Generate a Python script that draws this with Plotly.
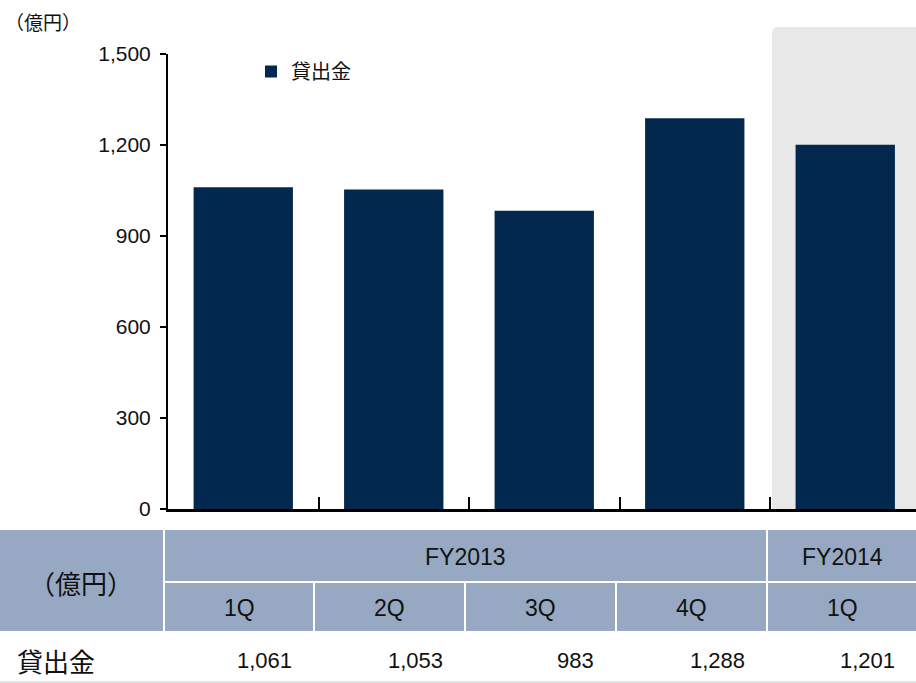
import plotly.graph_objects as go

# ---- data ----
categories = ["FY2013 1Q", "FY2013 2Q", "FY2013 3Q", "FY2013 4Q", "FY2014 1Q"]
quarters = ["1Q", "2Q", "3Q", "4Q", "1Q"]
years = ["FY2013", "FY2014"]
year_spans = [4, 1]
series_name = "貸出金"
values = [1061, 1053, 983, 1288, 1201]
y_ticks = [0, 300, 600, 900, 1200, 1500]
unit_label = "（億円）"

# ---- geometry helpers (pixel -> paper) ----
W, H = 916, 683
PL, PR, PT, PB = 168, 916, 54, 509
def px(x):
    return (x - PL) / (PR - PL)
def py(y):
    return (PB - y) / (PB - PT)

BAR = "#03284E"
HEAD = "#97A9C2"
FONT = "Liberation Sans, Arial, Noto Sans CJK JP, sans-serif"
JP = "Noto Sans CJK JP, sans-serif"

fig = go.Figure()
fig.add_trace(go.Bar(
    x=categories, y=values, name=series_name,
    marker=dict(color=BAR, line=dict(width=0)),
    width=0.66, showlegend=True,
))

shapes = []
annotations = []

# shaded FY2014 area with rounded top-left corner
x0, x1, y0, y1 = px(772), px(916), py(PB), py(27)
r = 6
rx, ry = r / (PR - PL), r / (PB - PT)
shapes.append(dict(
    type="path", xref="paper", yref="paper", layer="below",
    path=f"M {x0} {y0} L {x0} {y1 - ry} Q {x0} {y1} {x0 + rx} {y1} L {x1} {y1} L {x1} {y0} Z",
    fillcolor="#E8E8E8", line=dict(width=0),
))

def cell(xa, xb, ya, yb, color=HEAD):
    shapes.append(dict(type="rect", xref="paper", yref="paper",
                       x0=px(xa), x1=px(xb), y0=py(yb), y1=py(ya),
                       fillcolor=color, line=dict(width=0)))

def text(x, y, s, size, xanchor="center", font=FONT):
    annotations.append(dict(x=px(x), y=py(y), xref="paper", yref="paper",
                            text=s, showarrow=False, xanchor=xanchor,
                            yanchor="middle", font=dict(size=size, color="#111", family=font)))

col_edges = [165, 315, 466, 617, 768, 918]
cell(0, 163, 530, 631)
text(81, 582, unit_label, 26, font=JP)

# year row
ci = 0
for yname, span in zip(years, year_spans):
    xa = col_edges[ci]
    xb = min(col_edges[ci + span] - 2, 916)
    cell(xa, xb, 530, 581)
    text((xa + xb) / 2, 557, yname, 23)
    ci += span

# quarter row + value row
for i, q in enumerate(quarters):
    xa = col_edges[i]
    xb = min(col_edges[i + 1] - 2, 916)
    cell(xa, xb, 583, 631)
    text((xa + xb) / 2, 608, q, 23)
    text(xb - 19, 660, f"{values[i]:,}", 22, xanchor="right")

text(15, 660, series_name, 26, xanchor="left", font=JP)

# bottom border of table
shapes.append(dict(type="line", xref="paper", yref="paper",
                   x0=px(0), x1=px(916), y0=py(682), y1=py(682),
                   line=dict(color="#D9D9D9", width=1.5)))

# unit label top-left
text(3, 21, unit_label, 19, xanchor="left", font=JP)

fig.update_layout(
    width=W, height=H, autosize=False,
    margin=dict(l=PL, r=W - PR, t=PT, b=H - PB),
    paper_bgcolor="white", plot_bgcolor="rgba(0,0,0,0)",
    shapes=shapes, annotations=annotations,
    showlegend=True,
    legend=dict(x=px(251), y=py(52), xanchor="left", yanchor="top",
                itemwidth=30,
                bgcolor="rgba(0,0,0,0)", font=dict(size=20, family=JP, color="#111")),
)
fig.update_xaxes(
    type="category", range=[-0.5, -0.5 + (PR - PL) / 150.5],
    showticklabels=False, tickson="boundaries", ticks="inside",
    ticklen=12, tickwidth=2, tickcolor="black",
    showline=True, linewidth=2.5, linecolor="black", showgrid=False,
    fixedrange=True,
)
fig.update_yaxes(
    range=[0, 1500], tickvals=y_ticks, tickformat=",",
    ticks="outside", ticklen=6, tickwidth=1.5, tickcolor="black",
    showline=True, linewidth=2, linecolor="black", showgrid=False, zeroline=False,
    tickfont=dict(size=21, family=FONT, color="#111"),
    ticklabelstandoff=5,
)

fig.write_html("out.html", config={"displayModeBar": False},
               post_script="document.body.style.margin='0px';")
